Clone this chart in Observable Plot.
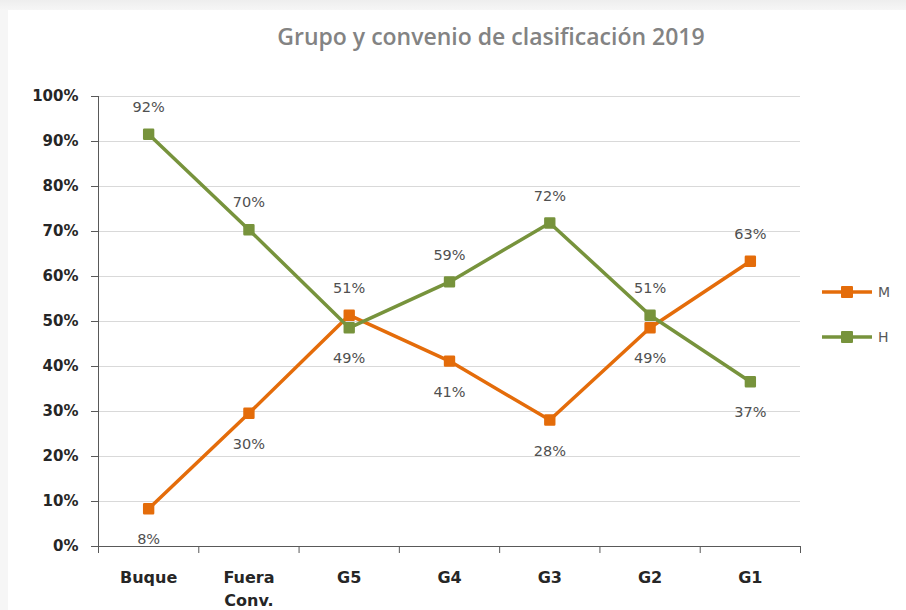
<!DOCTYPE html>
<html>
<head>
<meta charset="utf-8">
<script src="https://cdn.jsdelivr.net/npm/d3@7"></script>
<script src="https://cdn.jsdelivr.net/npm/@observablehq/plot@0.6"></script>
<style>
  html, body { margin: 0; padding: 0; background: #f1f1f1; }
  #wrap { position: relative; width: 906px; height: 610px; overflow: hidden;
    background: linear-gradient(#eeeeee, #f6f6f6 10px, #f6f6f6); }
  #chart { position: absolute; left: 0; top: 0; }
  #panel { position: absolute; left: 8px; top: 10px; right: 0; bottom: 0; background: #ffffff; }
  #title { position: absolute; left: 0; width: 982px; top: 25px; text-align: center; line-height: 23px;
    font-family: "Open Sans", sans-serif; font-weight: 600; font-size: 23px; color: #838383; }
  #legend { position: absolute; left: 820px; top: 281px; font-family: "DejaVu Sans", sans-serif;
    font-size: 14px; color: #595959; }
  .item { display: flex; align-items: center; height: 22px; margin-bottom: 23px; }
  .item span { margin-left: 4px; }
</style>
</head>
<body>
<div id="wrap">
  <div id="panel"></div>
  <div id="chart"></div>
  <div id="title">Grupo y convenio de clasificación 2019</div>
  <div id="legend"></div>
</div>
<script>
const categories = ["Buque", "Fuera\nConv.", "G5", "G4", "G3", "G2", "G1"];
const seriesNames = ["M", "H"];
const valuesM = [0.084, 0.296, 0.514, 0.412, 0.281, 0.486, 0.634];
const valuesH = [0.916, 0.704, 0.486, 0.588, 0.719, 0.514, 0.366];
const yTicks = [0, 0.1, 0.2, 0.3, 0.4, 0.5, 0.6, 0.7, 0.8, 0.9, 1.0];
const colors = {M: "#E46C0A", H: "#77933C"};

const rows = [];
categories.forEach((c, i) => {
  const m = valuesM[i], h = valuesH[i];
  rows.push({series: "M", pos: i + 0.5, value: m, above: m >= h});
  rows.push({series: "H", pos: i + 0.5, value: h, above: h > m});
});
const boundaries = d3.range(categories.length + 1);
const centers = categories.map((c, i) => i + 0.5);
const pct = d3.format(".0%");

const plot = Plot.plot({
  width: 906,
  height: 610,
  marginLeft: 98,
  marginRight: 106,
  marginTop: 96,
  marginBottom: 64,
  style: {background: "transparent"},
  x: {domain: [0, categories.length]},
  y: {domain: [0, 1]},
  color: {domain: seriesNames, range: seriesNames.map(s => colors[s])},
  marks: [
    Plot.gridY(yTicks.slice(1), {stroke: "#d9d9d9", strokeOpacity: 1}),
    Plot.axisY(yTicks, {tickFormat: pct, tickSize: 7, tickPadding: 13, stroke: "#595959",
      fill: "#262626", fontSize: 15, fontWeight: "bold", fontFamily: "DejaVu Sans", label: null}),
    Plot.axisX(boundaries, {tickSize: 7, tickFormat: () => "", stroke: "#595959", label: null}),
    Plot.axisX(centers, {tickSize: 0, tickPadding: 21, tickFormat: d => categories[Math.round(d - 0.5)],
      fill: "#262626", fontSize: 16, fontWeight: "bold", fontFamily: "DejaVu Sans", lineHeight: 1.4, label: null}),
    Plot.ruleY([0], {stroke: "#595959"}),
    Plot.ruleX([0], {stroke: "#595959"}),
    Plot.line(rows, {x: "pos", y: "value", z: "series", stroke: "series", strokeWidth: 3.5}),
    Plot.dot(rows, {x: "pos", y: "value", fill: "series", stroke: "series", symbol: "square",
      r: 5, strokeWidth: 2.5, strokeLinejoin: "round"}),
    Plot.text(rows.filter(d => d.above), {x: "pos", y: "value", text: d => pct(d.value), dy: -27,
      fill: "#505050", fontSize: 14.5, fontFamily: "DejaVu Sans"}),
    Plot.text(rows.filter(d => !d.above), {x: "pos", y: "value", text: d => pct(d.value), dy: 31,
      fill: "#505050", fontSize: 14.5, fontFamily: "DejaVu Sans"})
  ]
});
document.getElementById("chart").appendChild(plot);

const legend = document.getElementById("legend");
seriesNames.forEach(s => {
  const div = document.createElement("div");
  div.className = "item";
  div.innerHTML = `<svg width="54" height="14"><line x1="2" x2="52" y1="7" y2="7" stroke="${colors[s]}" stroke-width="3.5"/>` +
    `<rect x="22" y="2" width="10" height="10" fill="${colors[s]}" stroke="${colors[s]}" stroke-width="2" stroke-linejoin="round"/></svg><span>${s}</span>`;
  legend.appendChild(div);
});
</script>
</body>
</html>
